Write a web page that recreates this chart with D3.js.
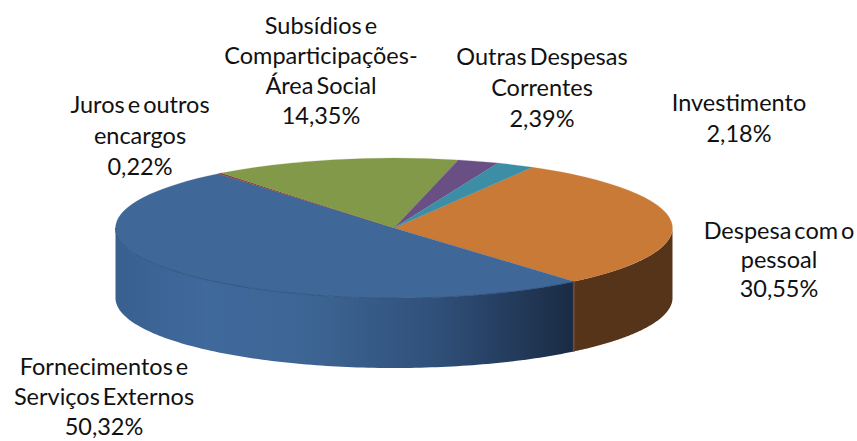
<!DOCTYPE html>
<html>
<head>
<meta charset="utf-8">
<script src="https://cdn.jsdelivr.net/npm/d3@7"></script>
<style>
  html, body { margin: 0; background: #fff; }
  text { font-family: Lato, "Open Sans", sans-serif; font-size: 23.5px; fill: #111; word-spacing: -3px; }
</style>
</head>
<body>
<svg width="857" height="441"></svg>
<script>
const categories = ['Despesa com o pessoal', 'Fornecimentos e Serviços Externos', 'Juros e outros encargos',
  'Subsídios e Comparticipações- Área Social', 'Outras Despesas Correntes', 'Investimento'];
const shares = [30.55, 50.32, 0.22, 14.35, 2.39, 2.18];
const percentLabels = ['30,55%', '50,32%', '0,22%', '14,35%', '2,39%', '2,18%'];

// label lines and where each block sits (same order as categories)
const labelLines = [
  ['Despesa com o', 'pessoal'],
  ['Fornecimentos e', 'Serviços Externos'],
  ['Juros e outros', 'encargos'],
  ['Subsídios e', 'Comparticipações-', 'Área Social'],
  ['Outras Despesas', 'Correntes'],
  ['Investimento']
];
const labelX = [779, 104, 140, 321, 542, 739];
const labelY = [239, 375, 113, 34, 65, 111];
const lineGap = [29, 30, 31, 30, 31, 31];

const topColors = ['#c97a36', '#3f6899', '#8c3b37', '#82994a', '#6a4f85', '#3b8ea5'];

const cx = 394, cy = 228, rx = 278.5, ry = 70, depth = 70;

const svg = d3.select('svg');
const defs = svg.append('defs');

const blueGrad = defs.append('linearGradient').attr('id', 'blueWall')
  .attr('gradientUnits', 'userSpaceOnUse')
  .attr('x1', cx - rx).attr('x2', 573).attr('y1', 0).attr('y2', 0);
[[0, '#39608f'], [0.2, '#40699c'], [0.42, '#3d6594'], [0.7, '#30507a'], [1, '#1a2b44']].forEach(([o, c]) => {
  blueGrad.append('stop').attr('offset', o).attr('stop-color', c);
});

const tau = 2 * Math.PI;
const pie = d3.pie().sort(null).value(d => d)
  .startAngle(29.8 / 360 * tau)
  .endAngle(29.8 / 360 * tau + tau);
const slices = pie(shares);

// side wall: only the front half of the ellipse (90deg to 270deg) shows
const px = a => cx + rx * Math.sin(a);
const py = a => cy - ry * Math.cos(a);
const wall = d3.area().x(a => px(a)).y0(a => py(a)).y1(a => py(a) + depth);

const wallFill = ['#56341a', 'url(#blueWall)'];
[0, 1].forEach(i => {
  const s = slices[i];
  const a0 = Math.max(s.startAngle, tau / 4);
  const a1 = Math.min(s.endAngle, tau * 3 / 4);
  svg.append('path')
    .attr('d', wall(d3.range(0, 121).map(k => a0 + (a1 - a0) * k / 120)))
    .attr('fill', wallFill[i]);
});

// lighter seam where the two walls meet
svg.append('line')
  .attr('x1', px(slices[0].endAngle)).attr('x2', px(slices[0].endAngle))
  .attr('y1', py(slices[0].endAngle)).attr('y2', py(slices[0].endAngle) + depth)
  .attr('stroke', '#6a4a35').attr('stroke-width', 2);

// top face is a normal d3 arc squashed to an ellipse
const arc = d3.arc().innerRadius(0).outerRadius(rx);
svg.append('g')
  .attr('transform', `translate(${cx},${cy}) scale(1,${ry / rx})`)
  .selectAll('path')
  .data(slices)
  .join('path')
  .attr('d', arc)
  .attr('fill', (d, i) => topColors[i])
  .attr('stroke', (d, i) => topColors[i])
  .attr('stroke-width', 0.3);

// thin darker rim along the front of the blue slice
const rimStart = slices[1].startAngle, rimEnd = tau * 3 / 4;
svg.append('path')
  .attr('d', d3.line().x(a => px(a)).y(a => py(a))(d3.range(0, 121).map(k => rimStart + (rimEnd - rimStart) * k / 120)))
  .attr('fill', 'none')
  .attr('stroke', '#33557f')
  .attr('stroke-width', 1);

// labels
categories.forEach((c, i) => {
  const lines = labelLines[i].concat(percentLabels[i]);
  const t = svg.append('text').attr('text-anchor', 'middle');
  lines.forEach((l, j) => {
    t.append('tspan').attr('x', labelX[i]).attr('y', labelY[i] + j * lineGap[i]).text(l);
  });
});
</script>
</body>
</html>
